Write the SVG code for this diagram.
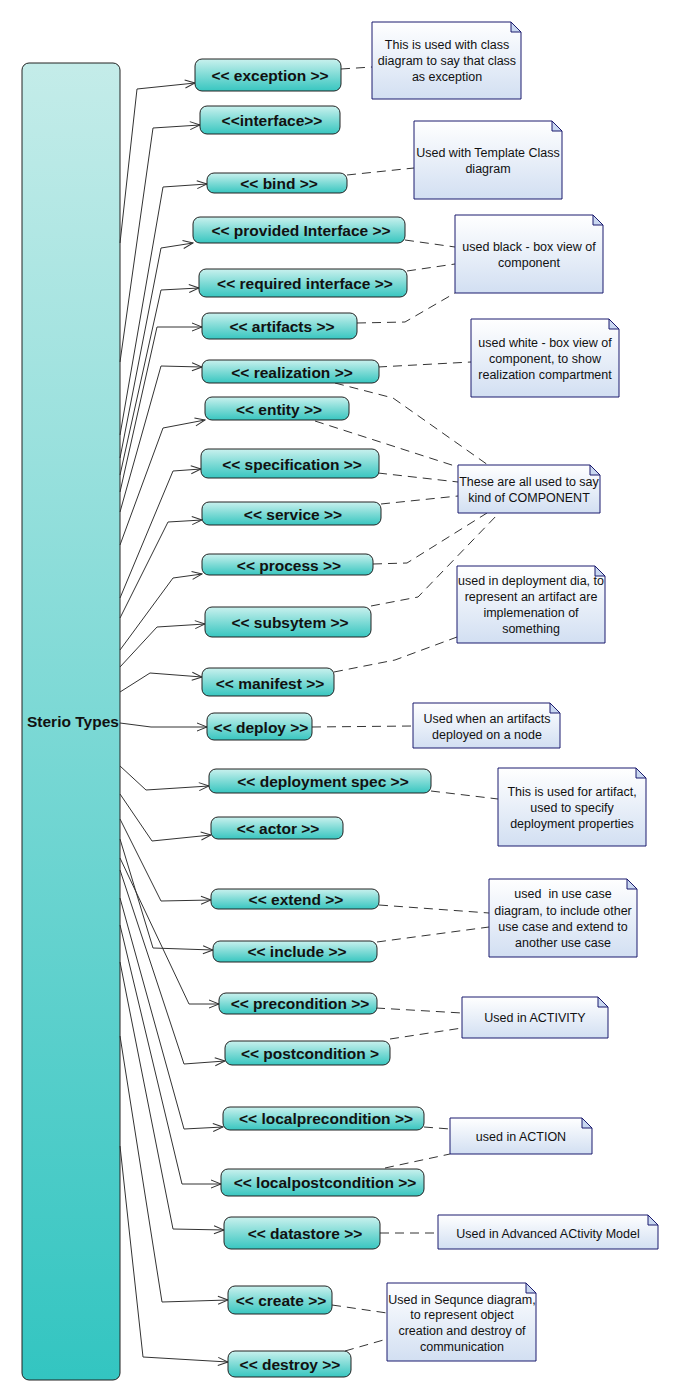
<svg xmlns="http://www.w3.org/2000/svg" width="679" height="1400" viewBox="0 0 679 1400">
<defs>
<linearGradient id="gBig" x1="0" y1="0" x2="0" y2="1"><stop offset="0" stop-color="#c4ece9"/><stop offset="1" stop-color="#33c5c1"/></linearGradient>
<linearGradient id="gNode" x1="0" y1="0" x2="0" y2="1"><stop offset="0" stop-color="#c9f1ee"/><stop offset="0.5" stop-color="#7fdbd6"/><stop offset="1" stop-color="#38c6c0"/></linearGradient>
<linearGradient id="gNote" x1="0" y1="0" x2="0" y2="1"><stop offset="0" stop-color="#ffffff"/><stop offset="1" stop-color="#d2dff2"/></linearGradient>
<marker id="arr" markerUnits="userSpaceOnUse" markerWidth="12" markerHeight="10" refX="11" refY="5" orient="auto"><path d="M1,1 L11,5 L1,9" fill="none" stroke="#333" stroke-width="1"/></marker>
</defs>
<style>
.big{fill:url(#gBig);stroke:#222;stroke-width:1}
.node rect{fill:url(#gNode);stroke:#222;stroke-width:1}
.node text{font-family:"Liberation Sans",Arial,sans-serif;font-weight:bold;font-size:15.5px;text-anchor:middle;fill:#111}
.note .b{fill:url(#gNote);stroke:#1a1a6e;stroke-width:1}
.note .f{fill:#c9d7f0;stroke:#1a1a6e;stroke-width:1}
.note text{font-family:"Liberation Sans",Arial,sans-serif;font-size:12.5px;text-anchor:middle;fill:#111}
.c{fill:none;stroke:#333;stroke-width:1;marker-end:url(#arr)}
.d{fill:none;stroke:#333;stroke-width:1;stroke-dasharray:9,6}
</style>

<g id="sterio-types">
<rect class="big" x="22" y="63" width="98" height="1317" rx="7"/>
<text x="27" y="727" style="font-family:'Liberation Sans',Arial,sans-serif;font-weight:bold;font-size:15.5px;fill:#111">Sterio Types</text>
</g>

<g id="connectors">
<polyline class="c" points="120,243 137,89 195,83"/>
<polyline class="c" points="120,362 153,128 200,125"/>
<polyline class="c" points="120,435 163,187 207,184"/>
<polyline class="c" points="120,458 161,248 193,243"/>
<polyline class="c" points="120,475 161,290 199,288"/>
<polyline class="c" points="120,492 157,327 202,327"/>
<polyline class="c" points="120,512 161,366 202,367"/>
<polyline class="c" points="120,545 163,428 205,420"/>
<polyline class="c" points="120,598 173,471 201,469"/>
<polyline class="c" points="120,618 168,522 202,520"/>
<polyline class="c" points="120,650 173,578 202,574"/>
<polyline class="c" points="120,667 157,627 205,624"/>
<polyline class="c" points="120,692 150,673 202,677"/>
<polyline class="c" points="120,723 151,727 207,727"/>
<polyline class="c" points="120,766 146,790 209,786"/>
<polyline class="c" points="120,794 152,841 211,835"/>
<polyline class="c" points="120,819 161,901 211,900"/>
<polyline class="c" points="120,839 153,948 213,950"/>
<polyline class="c" points="120,858 189,1004 219,1004"/>
<polyline class="c" points="120,870 184,1064 225,1061"/>
<polyline class="c" points="120,898 184,1129 223,1127"/>
<polyline class="c" points="120,925 182,1184 221,1184"/>
<polyline class="c" points="120,962 173,1229 224,1230"/>
<polyline class="c" points="120,1036 162,1302 228,1300"/>
<polyline class="c" points="120,1146 143,1357 228,1362"/>

<polyline class="d" points="341,69 372,67"/>
<polyline class="d" points="347,175 414,168"/>
<polyline class="d" points="405,240 455,247"/>
<polyline class="d" points="407,271 455,264"/>
<polyline class="d" points="357,323 405,322 455,293"/>
<polyline class="d" points="378,367 471,362"/>
<polyline class="d" points="335,383 393,398 488,465"/>
<polyline class="d" points="315,421 458,467"/>
<polyline class="d" points="378,473 458,482"/>
<polyline class="d" points="381,504 458,496"/>
<polyline class="d" points="373,564 407,563 487,513"/>
<polyline class="d" points="371,606 418,597 499,513"/>
<polyline class="d" points="334,672 395,660 457,637"/>
<polyline class="d" points="312,727 413,726"/>
<polyline class="d" points="431,791 498,799"/>
<polyline class="d" points="379,905 489,913"/>
<polyline class="d" points="377,942 489,927"/>
<polyline class="d" points="376,1008 462,1013"/>
<polyline class="d" points="390,1039 462,1028"/>
<polyline class="d" points="424,1127 450,1129"/>
<polyline class="d" points="385,1168 450,1154"/>
<polyline class="d" points="380,1233 438,1233"/>
<polyline class="d" points="332,1305 387,1313"/>
<polyline class="d" points="345,1351 387,1339"/>
</g>

<g id="n-exception" class="node"><rect x="195" y="59" width="146" height="32" rx="7"/><text x="270" y="81">&lt;&lt; exception &gt;&gt;</text></g>
<g id="n-interface" class="node"><rect x="200" y="106" width="140" height="28" rx="7"/><text x="272" y="126">&lt;&lt;interface&gt;&gt;</text></g>
<g id="n-bind" class="node"><rect x="207" y="173" width="140" height="20" rx="7"/><text x="279" y="189">&lt;&lt; bind &gt;&gt;</text></g>
<g id="n-provided" class="node"><rect x="193" y="217" width="212" height="26" rx="7"/><text x="301" y="236">&lt;&lt; provided Interface &gt;&gt;</text></g>
<g id="n-required" class="node"><rect x="199" y="269" width="208" height="28" rx="7"/><text x="305" y="289">&lt;&lt; required interface &gt;&gt;</text></g>
<g id="n-artifacts" class="node"><rect x="202" y="313" width="155" height="26" rx="7"/><text x="282" y="332">&lt;&lt; artifacts &gt;&gt;</text></g>
<g id="n-realization" class="node"><rect x="202" y="360" width="177" height="23" rx="7"/><text x="292" y="378">&lt;&lt; realization &gt;&gt;</text></g>
<g id="n-entity" class="node"><rect x="205" y="397" width="144" height="23" rx="7"/><text x="279" y="415">&lt;&lt; entity &gt;&gt;</text></g>
<g id="n-specification" class="node"><rect x="201" y="449" width="178" height="29" rx="7"/><text x="292" y="470">&lt;&lt; specification &gt;&gt;</text></g>
<g id="n-service" class="node"><rect x="202" y="502" width="179" height="23" rx="7"/><text x="293" y="520">&lt;&lt; service &gt;&gt;</text></g>
<g id="n-process" class="node"><rect x="202" y="554" width="171" height="21" rx="7"/><text x="289" y="571">&lt;&lt; process &gt;&gt;</text></g>
<g id="n-subsytem" class="node"><rect x="205" y="607" width="166" height="30" rx="7"/><text x="290" y="628">&lt;&lt; subsytem &gt;&gt;</text></g>
<g id="n-manifest" class="node"><rect x="202" y="668" width="132" height="28" rx="7"/><text x="270" y="689">&lt;&lt; manifest &gt;&gt;</text></g>
<g id="n-deploy" class="node"><rect x="207" y="713" width="105" height="27" rx="7"/><text x="261" y="733">&lt;&lt; deploy &gt;&gt;</text></g>
<g id="n-deployment-spec" class="node"><rect x="209" y="769" width="222" height="24" rx="7"/><text x="323" y="787">&lt;&lt; deployment spec &gt;&gt;</text></g>
<g id="n-actor" class="node"><rect x="211" y="817" width="132" height="22" rx="7"/><text x="278" y="834">&lt;&lt; actor &gt;&gt;</text></g>
<g id="n-extend" class="node"><rect x="211" y="889" width="168" height="20" rx="7"/><text x="296" y="905">&lt;&lt; extend &gt;&gt;</text></g>
<g id="n-include" class="node"><rect x="213" y="941" width="164" height="21" rx="7"/><text x="297" y="957">&lt;&lt; include &gt;&gt;</text></g>
<g id="n-precondition" class="node"><rect x="219" y="993" width="158" height="21" rx="7"/><text x="300" y="1009">&lt;&lt; precondition &gt;&gt;</text></g>
<g id="n-postcondition" class="node"><rect x="225" y="1041" width="165" height="24" rx="7"/><text x="310" y="1059">&lt;&lt; postcondition &gt;</text></g>
<g id="n-localprecondition" class="node"><rect x="223" y="1107" width="201" height="23" rx="7"/><text x="326" y="1124">&lt;&lt; localprecondition &gt;&gt;</text></g>
<g id="n-localpostcondition" class="node"><rect x="221" y="1169" width="203" height="27" rx="7"/><text x="325" y="1188">&lt;&lt; localpostcondition &gt;&gt;</text></g>
<g id="n-datastore" class="node"><rect x="224" y="1217" width="156" height="32" rx="7"/><text x="305" y="1239">&lt;&lt; datastore &gt;&gt;</text></g>
<g id="n-create" class="node"><rect x="228" y="1286" width="104" height="28" rx="7"/><text x="281" y="1306">&lt;&lt; create &gt;&gt;</text></g>
<g id="n-destroy" class="node"><rect x="228" y="1351" width="123" height="26" rx="7"/><text x="290" y="1370">&lt;&lt; destroy &gt;&gt;</text></g>

<g id="note-exception" class="note"><path class="b" d="M372,22 H511 L521,32 V99 H372 Z"/><path class="f" d="M511,22 L521,32 H511 Z"/><text x="447" y="49">This is used with class</text><text x="447" y="65">diagram to say that class</text><text x="447" y="81">as exception</text></g>
<g id="note-bind" class="note"><path class="b" d="M414,121 H552 L562,131 V199 H414 Z"/><path class="f" d="M552,121 L562,131 H552 Z"/><text x="488" y="157">Used with Template Class</text><text x="488" y="173">diagram</text></g>
<g id="note-blackbox" class="note"><path class="b" d="M455,215 H593 L603,225 V293 H455 Z"/><path class="f" d="M593,215 L603,225 H593 Z"/><text x="529" y="251">used black - box view of</text><text x="529" y="267">component</text></g>
<g id="note-whitebox" class="note"><path class="b" d="M471,319 H609 L619,329 V397 H471 Z"/><path class="f" d="M609,319 L619,329 H609 Z"/><text x="545" y="347">used white - box view of</text><text x="545" y="363">component, to show</text><text x="545" y="379">realization compartment</text></g>
<g id="note-component" class="note"><path class="b" d="M458,465 H590 L600,475 V513 H458 Z"/><path class="f" d="M590,465 L600,475 H590 Z"/><text x="529" y="486">These are all used to say</text><text x="529" y="502">kind of COMPONENT</text></g>
<g id="note-manifest" class="note"><path class="b" d="M457,566 H595 L605,576 V643 H457 Z"/><path class="f" d="M595,566 L605,576 H595 Z"/><text x="531" y="585">used in deployment dia, to</text><text x="531" y="601">represent an artifact are</text><text x="531" y="617">implemenation of</text><text x="531" y="633">something</text></g>
<g id="note-deploy" class="note"><path class="b" d="M413,703 H550 L560,713 V748 H413 Z"/><path class="f" d="M550,703 L560,713 H550 Z"/><text x="487" y="723">Used when an artifacts</text><text x="487" y="739">deployed on a node</text></g>
<g id="note-dspec" class="note"><path class="b" d="M498,768 H636 L646,778 V846 H498 Z"/><path class="f" d="M636,768 L646,778 H636 Z"/><text x="572" y="796">This is used for artifact,</text><text x="572" y="812">used to specify</text><text x="572" y="828">deployment properties</text></g>
<g id="note-usecase" class="note"><path class="b" d="M489,879 H627 L637,889 V957 H489 Z"/><path class="f" d="M627,879 L637,889 H627 Z"/><text x="563" y="898" style="white-space:pre">used  in use case</text><text x="563" y="915">diagram, to include other</text><text x="563" y="931">use case and extend to</text><text x="563" y="947">another use case</text></g>
<g id="note-activity" class="note"><path class="b" d="M462,997 H598 L608,1007 V1038 H462 Z"/><path class="f" d="M598,997 L608,1007 H598 Z"/><text x="535" y="1022">Used in ACTIVITY</text></g>
<g id="note-action" class="note"><path class="b" d="M450,1118 H582 L592,1128 V1154 H450 Z"/><path class="f" d="M582,1118 L592,1128 H582 Z"/><text x="521" y="1141">used in ACTION</text></g>
<g id="note-datastore" class="note"><path class="b" d="M438,1215 H648 L658,1225 V1249 H438 Z"/><path class="f" d="M648,1215 L658,1225 H648 Z"/><text x="548" y="1238">Used in Advanced ACtivity Model</text></g>
<g id="note-sequence" class="note"><path class="b" d="M387,1283 H526 L536,1293 V1361 H387 Z"/><path class="f" d="M526,1283 L536,1293 H526 Z"/><text x="462" y="1304">Used in Sequnce diagram,</text><text x="462" y="1319">to represent object</text><text x="462" y="1335">creation and destroy of</text><text x="462" y="1351">communication</text></g>
</svg>
